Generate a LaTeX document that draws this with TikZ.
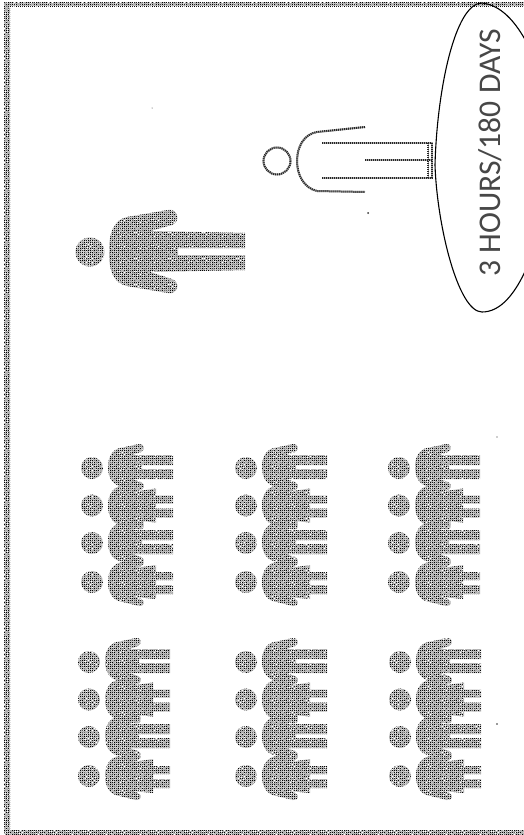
\documentclass[tikz,border=0pt]{standalone}
\usepackage{fontspec}
\setmainfont{Carlito}
\usetikzlibrary{patterns}
\pgfdeclarepatternformonly{stipple}{\pgfqpoint{0pt}{0pt}}{\pgfqpoint{1pt}{1pt}}{\pgfqpoint{2pt}{2pt}}{%
  \pgfpathrectangle{\pgfqpoint{0pt}{0pt}}{\pgfqpoint{1pt}{1pt}}\pgfusepath{fill}}
\newcommand{\gp}[2]{\pgfpathrectangle{\pgfqpoint{#1pt}{#2pt}}{\pgfqpoint{1.1pt}{1.1pt}}}
\pgfdeclarepatternformonly{grain}{\pgfqpoint{0pt}{0pt}}{\pgfqpoint{17pt}{13pt}}{\pgfqpoint{17pt}{13pt}}{%
  \gp{1}{0}\gp{4}{1}\gp{7}{0}\gp{11}{1}\gp{15}{0}\gp{2}{2}\gp{9}{2}\gp{13}{3}\gp{0}{4}\gp{5}{3}%
  \gp{7}{4}\gp{16}{4}\gp{3}{5}\gp{10}{5}\gp{12}{6}\gp{1}{6}\gp{6}{6}\gp{14}{7}\gp{4}{7}\gp{8}{8}%
  \gp{11}{8}\gp{0}{8}\gp{15}{9}\gp{2}{9}\gp{6}{9}\gp{13}{10}\gp{9}{10}\gp{4}{11}\gp{16}{11}\gp{1}{11}%
  \gp{7}{12}\gp{11}{12}\gp{14}{12}\pgfusepath{fill}}
\tikzset{
  ink/.style={fill=gray!60,postaction={pattern=stipple,pattern color=black},postaction={pattern=grain,pattern color=white}},
  outline/.style={draw=gray!70,line width=2pt,postaction={draw=black!85,line width=2pt,dash pattern=on 1pt off 1pt}},
  speck/.style={fill=black!80}
}
\newcommand{\malebody}{%
  \path[ink] (16,-1) .. controls (16,-13) and (22,-20) .. (31,-20.5)
    -- (47,-24) .. controls (52,-25) and (54,-18) .. (49,-16) -- (40,-13)
    -- (81,-13) -- (81,-3) -- (50,-3) -- (50,1) -- (81,1) -- (81,11)
    -- (40,11) -- (49,14) .. controls (54,16) and (52,23) .. (47,22)
    -- (31,18.5) .. controls (22,18) and (16,11) .. (16,-1) -- cycle;}
\newcommand{\femalebody}{%
  \path[ink] (16,0) .. controls (16,-12) and (22,-19) .. (31,-20)
    -- (47,-23) .. controls (52,-24) and (54,-18) .. (49,-16) -- (44,-14)
    -- (64,-17) -- (64,-10) -- (81,-10) -- (81,-2) -- (64,-2) -- (64,3)
    -- (81,3) -- (81,12) -- (64,12) -- (64,17) -- (44,15) -- (49,17)
    .. controls (54,19) and (52,25) .. (47,24) -- (31,20)
    .. controls (22,19) and (16,12) .. (16,0) -- cycle;}
\newcommand{\smallgroup}[2]{%
  \begin{scope}[shift={(#1,#2)}]
    \path[ink] (0,0) circle (11);
    \malebody
    \begin{scope}[shift={(0,37.5)}]\path[ink] (0,0) circle (11);\femalebody\end{scope}
    \begin{scope}[shift={(0,75)}]\path[ink] (0,0) circle (11);\malebody\end{scope}
    \begin{scope}[shift={(0,114)}]\path[ink] (0,0) circle (11);\femalebody\end{scope}
  \end{scope}}
\begin{document}
\begin{tikzpicture}[x=1pt,y=-1pt]
  \useasboundingbox (0,0) rectangle (524,835);
  \fill[white] (0,0) rectangle (524,835);
  % scanned edge bands
  \path[ink] (4,2) rectangle (10,835);
  \path[ink] (4,2) rectangle (524,6);
  \path[ink] (4,830) rectangle (524,835);
  % large filled figure
  \path[ink] (90,252) circle (14.5);
  \path[ink] (109,252) .. controls (109,232) and (114,220) .. (127,217)
    -- (168,210) .. controls (178,208) and (181,222) .. (172,225) -- (150,231)
    -- (245,233) -- (245,248) -- (178,248) -- (178,255) -- (245,255) -- (245,270)
    -- (150,272) -- (172,279) .. controls (181,282) and (178,295) .. (168,293)
    -- (127,286) .. controls (114,283) and (109,272) .. (109,252) -- cycle;
  % outlined figure
  \draw[outline] (277,161) circle (13.5);
  \draw[outline] (365,127) -- (317,132) .. controls (304,134) and (297,147) .. (297,161)
    .. controls (297,175) and (304,188) .. (317,191) -- (365,192);
  \draw[outline,line width=1.6pt] (322,143) -- (432,143) -- (432,178) -- (322,178);
  \draw[outline,line width=1.6pt] (365,160) -- (432,160);
  \draw[outline,line width=1pt] (428,143) -- (428,178);
  % small groups
  \smallgroup{92}{468}
  \smallgroup{246}{468}
  \smallgroup{399}{468}
  \smallgroup{89}{662}
  \smallgroup{246}{662}
  \smallgroup{400}{662}
  % oval with label
  \draw[black,line width=1.1pt] (528,45) .. controls (515,20) and (500,5) .. (482,3)
    .. controls (455,3) and (437,90) .. (435,165)
    .. controls (437,225) and (458,312) .. (482,312)
    .. controls (500,312) and (515,295) .. (528,265);
  \node[rotate=90,text=black!72,inner sep=0pt] (days) at (490,153) {\fontsize{31.6}{32}\selectfont 3 HOURS/180 DAYS};
  % scanner specks
  \fill[speck] (368,213) circle (1);
  \fill[speck] (152,108) circle (0.5);
  \fill[speck] (497,724) circle (0.9);
  \fill[speck] (497,437) circle (0.6);
\end{tikzpicture}
\end{document}
